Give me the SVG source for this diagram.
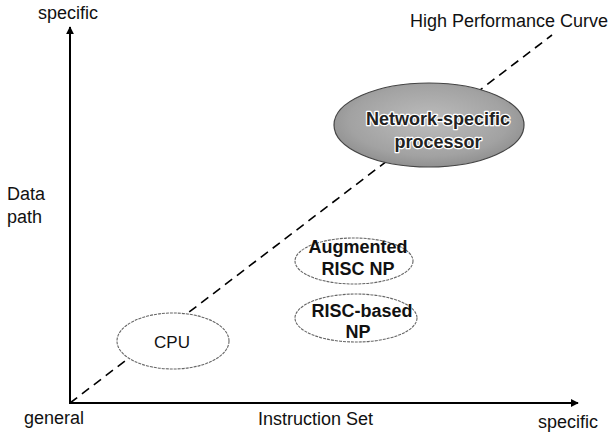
<svg xmlns="http://www.w3.org/2000/svg" width="608" height="432" viewBox="0 0 608 432">
<style>
text{font-family:"Liberation Sans",Arial,sans-serif;fill:#111;}
.lbl{font-size:18px;}
.node{font-size:18px;text-anchor:middle;font-weight:bold;}
.ell{fill:#fff;stroke:#666;stroke-width:1.1;stroke-dasharray:3 1;}
.axis{stroke:#000;stroke-width:2;fill:none;}
.halo{fill:#222;stroke:#fff;stroke-width:2.5;paint-order:stroke;stroke-linejoin:round;}
</style>
<defs>
<marker id="ah" viewBox="0 0 10 10" refX="9" refY="5" markerWidth="4" markerHeight="4" orient="auto">
<path d="M0,0 L10,5 L0,10 z" fill="#000"/>
</marker>
<radialGradient id="gray" cx="0.5" cy="0.45" r="0.6">
<stop offset="0" stop-color="#bdbdbd"/>
<stop offset="0.7" stop-color="#a2a2a2"/>
<stop offset="1" stop-color="#8a8a8a"/>
</radialGradient>
</defs>
<rect width="608" height="432" fill="#fff"/>
<g id="connectors">
<line class="axis" x1="70" y1="404" x2="70" y2="27" marker-end="url(#ah)"/>
<line class="axis" x1="69" y1="403" x2="578" y2="403" marker-end="url(#ah)"/>
<line x1="70" y1="403" x2="552" y2="35" stroke="#000" stroke-width="1.6" stroke-dasharray="9 6"/>
</g>
<g id="labels">
<text class="lbl" x="38" y="19">specific</text>
<text class="lbl" x="410" y="27">High Performance Curve</text>
<text class="lbl" x="7" y="200">Data</text>
<text class="lbl" x="7" y="223">path</text>
<text class="lbl" x="24" y="424">general</text>
<text class="lbl" x="258" y="425">Instruction Set</text>
<text class="lbl" x="538" y="428">specific</text>
</g>
<g id="network-processor">
<ellipse cx="429" cy="125" rx="95" ry="42" fill="url(#gray)" stroke="#444" stroke-width="1.2"/>
<text class="node halo" x="438" y="125" font-size="19.5">Network-specific</text>
<text class="node halo" x="438" y="148" font-size="19.5">processor</text>
</g>
<g id="augmented-risc">
<ellipse class="ell" cx="354" cy="261" rx="59" ry="23"/>
<text class="node" x="358" y="253">Augmented</text>
<text class="node" x="358" y="275">RISC NP</text>
</g>
<g id="risc-based">
<ellipse class="ell" cx="356" cy="318" rx="61" ry="24"/>
<text class="node" x="362" y="317">RISC-based</text>
<text class="node" x="358" y="338">NP</text>
</g>
<g id="cpu">
<ellipse class="ell" cx="173" cy="341" rx="56" ry="28"/>
<text x="172" y="348" font-size="17" text-anchor="middle">CPU</text>
</g>
</svg>
